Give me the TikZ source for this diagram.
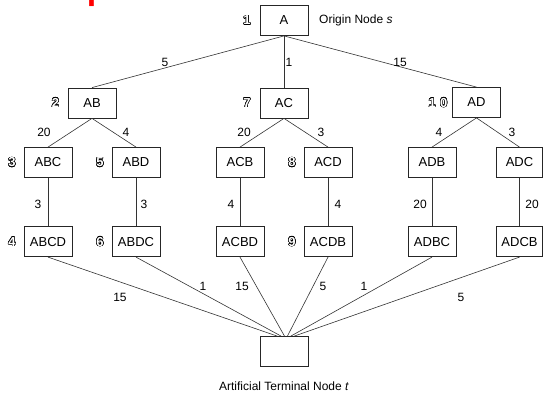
\documentclass[tikz,border=0pt]{standalone}
\usepackage{fontspec}
\setmainfont{Liberation Sans}
\usepackage{contour}
\contourlength{0.5pt}
\usetikzlibrary{calc}
\begin{document}
\begin{tikzpicture}[x=1pt,y=-1pt,
  box/.style={draw=black!85, line width=0.8pt, minimum width=48pt, minimum height=30pt, inner sep=0pt, font=\fontsize{13}{15}\selectfont},
  edge/.style={draw=black!80, line width=0.6pt},
  lbl/.style={font=\fontsize{12}{14}\selectfont, inner sep=0pt},
  idx/.style={font=\fontsize{13}{14}\selectfont\bfseries, inner sep=0pt}]
\useasboundingbox (0,0) rectangle (543,395);
% cut-off title
\node[anchor=base west, text=red, font=\fontsize{34}{36}\selectfont\bfseries, inner sep=0pt] (title) at (-4,-0.3) {Examples};
% nodes
\node[box] (A) at (284,20.5) {A};
\node[box] (AB) at (92,103) {AB};
\node[box] (AC) at (284,103) {AC};
\node[box] (AD) at (476.5,102.5) {AD};
\node[box] (ABC) at (48,162.5) {ABC};
\node[box] (ABD) at (136,162.5) {ABD};
\node[box] (ACB) at (240,162.5) {ACB};
\node[box] (ACD) at (328,162.5) {ACD};
\node[box] (ADB) at (432,162.5) {ADB};
\node[box, minimum width=46pt] (ADC) at (519.5,162.5) {ADC};
\node[box] (ABCD) at (48,241.7) {ABCD};
\node[box] (ABDC) at (136,241.7) {ABDC};
\node[box] (ACBD) at (240,241.7) {ACBD};
\node[box] (ACDB) at (328,241.7) {ACDB};
\node[box] (ADBC) at (432,241.7) {ADBC};
\node[box, minimum width=46pt] (ADCB) at (519.5,241.7) {ADCB};
\node[box] (T) at (284,351.5) {};
% texts
\node[lbl, anchor=west] (orig) at (319,20.5) {Origin Node \textit{s}};
\node[lbl] (term) at (284,386) {Artificial Terminal Node \textit{t}};
% index digits
\node[idx] (i1) at (247,20.5) {\contour{black}{\color{white}1}};
\node[idx] (i2) at (55.5,103) {\contour{black}{\color{white}2}};
\node[idx] (i3) at (12,162.5) {\contour{black}{\color{white}3}};
\node[idx] (i4) at (12,242) {\contour{black}{\color{white}4}};
\node[idx] (i5) at (100,162.5) {\contour{black}{\color{white}5}};
\node[idx] (i6) at (100,242) {\contour{black}{\color{white}6}};
\node[idx] (i7) at (247,103) {\contour{black}{\color{white}7}};
\node[idx] (i8) at (292,162.5) {\contour{black}{\color{white}8}};
\node[idx] (i9) at (292,242) {\contour{black}{\color{white}9}};
\node[idx] (i10) at (438,103) {\contour{black}{\color{white}1\,\,0}};
% edges
\draw[edge] (A.south) -- (AB.north);
\draw[edge] (A.south) -- (AC.north);
\draw[edge] (A.south) -- (AD.north);
\draw[edge] (AB.south) -- (ABC.north);
\draw[edge] (AB.south) -- (ABD.north);
\draw[edge] (AC.south) -- (ACB.north);
\draw[edge] (AC.south) -- (ACD.north);
\draw[edge] (AD.south) -- (ADB.north);
\draw[edge] (AD.south) -- (ADC.north);
\draw[edge] (ABC) -- (ABCD);
\draw[edge] (ABD) -- (ABDC);
\draw[edge] (ACB) -- (ACBD);
\draw[edge] (ACD) -- (ACDB);
\draw[edge] (ADB) -- (ADBC);
\draw[edge] (ADC) -- (ADCB);
\coordinate (t1) at ($(T.north west)!0.36!(T.north east)$);
\coordinate (t2) at ($(T.north west)!0.44!(T.north east)$);
\coordinate (t3) at ($(T.north west)!0.51!(T.north east)$);
\coordinate (t4) at ($(T.north west)!0.57!(T.north east)$);
\coordinate (t5) at ($(T.north west)!0.64!(T.north east)$);
\coordinate (t6) at ($(T.north west)!0.71!(T.north east)$);
\draw[edge] (ABCD.south) -- (t1);
\draw[edge] (ABDC.south) -- (t2);
\draw[edge] (ACBD.south) -- (t3);
\draw[edge] (ACDB.south) -- (t4);
\draw[edge] (ADBC.south) -- (t5);
\draw[edge] (ADCB.south) -- (t6);
% edge labels
\node[lbl] (l1) at (165,62) {5};
\node[lbl] (l2) at (289,62) {1};
\node[lbl] (l3) at (400,62) {15};
\node[lbl] (l4) at (44,132) {20};
\node[lbl] (l5) at (126,132) {4};
\node[lbl] (l6) at (244,132) {20};
\node[lbl] (l7) at (321,132) {3};
\node[lbl] (l8) at (439,132) {4};
\node[lbl] (l9) at (512,132) {3};
\node[lbl] (l10) at (38,204) {3};
\node[lbl] (l11) at (144,204) {3};
\node[lbl] (l12) at (231,204) {4};
\node[lbl] (l13) at (338,204) {4};
\node[lbl] (l14) at (420,204) {20};
\node[lbl] (l15) at (532,204) {20};
\node[lbl] (l16) at (120,297) {15};
\node[lbl] (l17) at (203,286) {1};
\node[lbl] (l18) at (242,286) {15};
\node[lbl] (l19) at (323,286) {5};
\node[lbl] (l20) at (364,286) {1};
\node[lbl] (l21) at (461,297) {5};
\end{tikzpicture}
\end{document}
